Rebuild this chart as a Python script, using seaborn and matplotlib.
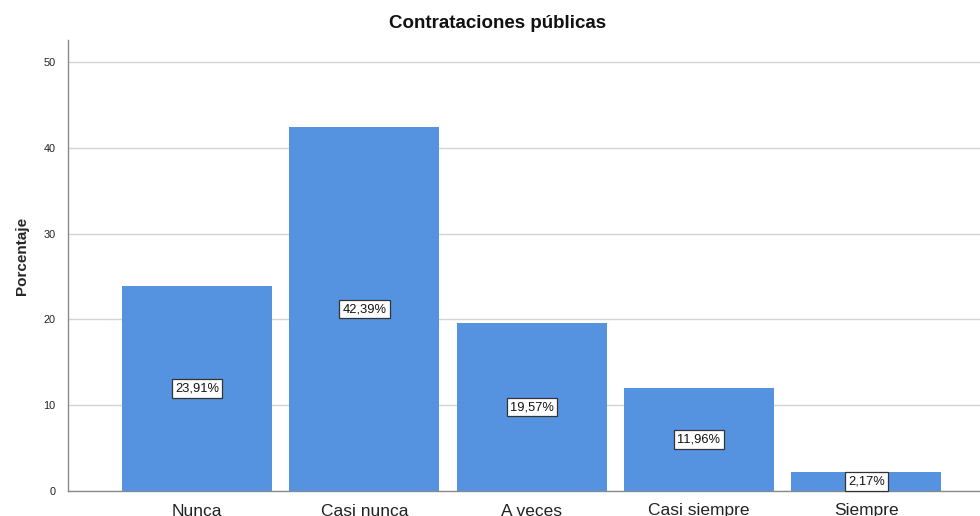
import numpy as np
import pandas as pd
import matplotlib
matplotlib.use('Agg')
import matplotlib.pyplot as plt
import seaborn as sns

# data
categories = ['Nunca', 'Casi nunca', 'A veces', 'Casi siempre', 'Siempre']
percentages = [23.91, 42.39, 19.57, 11.96, 2.17]

BAR_COLOR = '#5593e0'
GRID_COLOR = '#d4d4d4'
SPINE_COLOR = '#8a8a8a'

sns.set_style('white')
plt.rcParams['font.family'] = ['Liberation Sans', 'DejaVu Sans']

df = pd.DataFrame({'categoria': categories, 'porcentaje': percentages})

fig = plt.figure(figsize=(9.8, 5.16), dpi=100)
ax = fig.add_axes([68 / 980, 25 / 516, 1 - 68 / 980, 451 / 516])

sns.barplot(data=df, x='categoria', y='porcentaje', color=BAR_COLOR,
            saturation=1, width=0.897, linewidth=0, ax=ax, zorder=3)

ax.set_xlim(-0.772, 4.68)
ax.set_ylim(0, 52.56)
ax.set_yticks([0, 10, 20, 30, 40, 50])
ax.yaxis.grid(True, color=GRID_COLOR, lw=1, zorder=0)
ax.set_axisbelow(True)

for side in ['top', 'right']:
    ax.spines[side].set_visible(False)
for side in ['left', 'bottom']:
    ax.spines[side].set_color(SPINE_COLOR)
    ax.spines[side].set_linewidth(1)

ax.tick_params(axis='y', length=0, pad=9, labelsize=7.8, labelcolor='#222222')
ax.tick_params(axis='x', length=0, pad=9, labelsize=12.5, labelcolor='#222222')

ax.set_xlabel('')
ax.set_ylabel('Porcentaje', fontsize=11, fontweight='bold')
ax.yaxis.set_label_coords(-39 / 912, 0.521)

# value boxes in the middle of each bar
labels = [f'{v:.2f}'.replace('.', ',') + '%' for v in percentages]
ax.bar_label(ax.containers[0], labels=labels, label_type='center',
             fontsize=9.3, color='#111111', zorder=5,
             bbox=dict(boxstyle='square,pad=0.25', facecolor='white',
                       edgecolor='#333333', linewidth=0.9))

fig.text(497.5 / 980, 1 - 24 / 516, 'Contrataciones públicas',
         ha='center', va='center', fontsize=13.5, fontweight='bold',
         color='#111111')

fig.savefig('out.png', dpi=100)
